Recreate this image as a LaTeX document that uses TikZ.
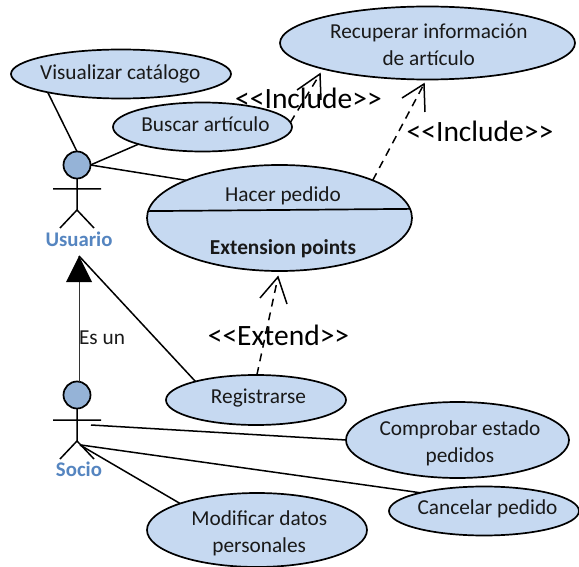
\documentclass[tikz,border=0pt]{standalone}
\usepackage{fontspec}
\setmainfont{Carlito}
\usetikzlibrary{shapes.geometric}
\definecolor{ucfill}{HTML}{C6D9F1}
\definecolor{headfill}{HTML}{95B3D7}
\definecolor{actortext}{HTML}{5585C0}
\newcommand{\uctext}[3]{\smash{\makebox[0pt]{\kern#1pt\raisebox{#2pt}{\begin{tabular}{@{}c@{}}#3\end{tabular}}}}}
\tikzset{
  every node/.style={font=\fontsize{21.3}{27}\selectfont, text=black!90},
  uc/.style={ellipse, draw=black, fill=ucfill, line width=1.7pt, inner sep=0pt, outer sep=0pt},
  head/.style={circle, draw=black, fill=headfill, line width=1.7pt, minimum size=27pt, inner sep=0pt, outer sep=0pt},
  stick/.style={draw=black, line width=1.5pt},
  assoc/.style={draw=black, line width=1.5pt},
  genline/.style={draw=black!80, line width=1pt},
  depend/.style={draw=black, line width=1.5pt, dash pattern=on 8pt off 6pt},
  openhead/.style={draw=black, line width=1.5pt},
  actorlabel/.style={font=\fontsize{20.8}{24}\selectfont\bfseries, text=actortext},
  stereo/.style={font=\fontsize{29.5}{32}\selectfont, text=black}
}
\begin{document}
\begin{tikzpicture}[x=1pt,y=-1pt]
\useasboundingbox (0,0) rectangle (579,567);

% use cases
\node[uc, minimum width=220pt, minimum height=49pt] (vis) at (121,74) {\uctext{-1.5}{-5}{Visualizar catálogo}};
\node[uc, minimum width=179pt, minimum height=49pt] (bus) at (202.5,127) {\uctext{6}{-4}{Buscar artículo}};
\node[uc, minimum width=295pt, minimum height=73pt] (rec) at (427.5,43) {\uctext{2.5}{-9}{Recuperar información\\de artículo}};
\node[uc, minimum width=265pt, minimum height=106pt] (hac) at (279.5,218) {};
\node[uc, minimum width=180pt, minimum height=50pt] (reg) at (256,400) {\uctext{5}{-3}{Registrarse}};
\node[uc, minimum width=223pt, minimum height=76pt] (com) at (457.5,440) {\uctext{5}{-9}{Comprobar estado\\pedidos}};
\node[uc, minimum width=190pt, minimum height=49pt] (can) at (484,511) {\uctext{7}{-3}{Cancelar pedido}};
\node[uc, minimum width=220pt, minimum height=74pt] (mod) at (257,530) {\uctext{4.5}{-9}{Modificar datos\\personales}};

% Hacer pedido compartments
\draw[assoc, line width=1.7pt] (hac.177) -- (hac.4.4);
\node (hactxt) at (283,196) {Hacer pedido};
\node[font=\fontsize{21.3}{24}\selectfont\bfseries] (hacext) at (283,249) {Extension points};

% actor Usuario
\node[head] (uhead) at (77,165) {};
\coordinate (uhip) at (77,210);
\coordinate (uarml) at (53,189);
\coordinate (uarmr) at (101,189);
\coordinate (ulegl) at (60,228);
\coordinate (ulegr) at (94,228);
\draw[stick] (uhead) -- (uhip) (uarml) -- (uarmr) (ulegl) -- (uhip) -- (ulegr);
\node[actorlabel] (ulabel) at (79,239) {Usuario};

% actor Socio
\node[head] (shead) at (77,395) {};
\coordinate (ship) at (77,441);
\coordinate (sarml) at (53,420);
\coordinate (sarmr) at (101,420);
\coordinate (slegl) at (60,459);
\coordinate (slegr) at (94,459);
\draw[stick] (shead) -- (ship) (sarml) -- (sarmr) (slegl) -- (ship) -- (slegr);
\node[actorlabel] (slabel) at (79,469) {Socio};

% generalisation
\coordinate (gtip) at (79,256);
\coordinate (gbl) at (66,282);
\coordinate (gbr) at (92,282);
\coordinate (gbase) at (79,282);
\coordinate (sheadtop) at (79,382);
\draw[genline] (sheadtop) -- (gbase);
\fill[black] (gtip) -- (gbl) -- (gbr) -- cycle;
\node (esun) at (102,338) {Es un};

% associations
\draw[assoc] (vis.194) -- (uhead.90);
\draw[assoc] (bus.195.6) -- (uhead.0);
\draw[assoc] (hac.158) -- (uhead.0);
\draw[assoc] (reg.163) -- (gtip);
\coordinate (sa) at (91,425);
\coordinate (sb) at (81,445);
\coordinate (sc) at (80,445);
\draw[assoc] (sa) -- (com.180);
\draw[assoc] (sb) -- (can.164);
\draw[assoc] (sc) -- (mod.161);

% dependency 1
\coordinate (t1) at (320,74);
\coordinate (t1l) at (297,90);
\coordinate (t1r) at (321,100);
\draw[depend] (bus.3.2) -- (t1);
\draw[openhead] (t1l) -- (t1) -- (t1r);
\node[stereo] (inc1) at (308.5,98) {<{}<Include>{}>};

% dependency 2
\coordinate (t2) at (424,84);
\coordinate (t2l) at (402,98);
\coordinate (t2r) at (425,112);
\draw[depend] (hac.22) -- (t2);
\draw[openhead] (t2l) -- (t2) -- (t2r);
\node[stereo] (inc2) at (480,131) {<{}<Include>{}>};

% dependency 3
\coordinate (t3) at (278,277);
\coordinate (t3l) at (260,298);
\coordinate (t3r) at (287,304);
\draw[depend] (reg.88) -- (t3);
\draw[openhead] (t3l) -- (t3) -- (t3r);
\node[stereo] (ext) at (278.5,335) {<{}<Extend>{}>};
\end{tikzpicture}
\end{document}
